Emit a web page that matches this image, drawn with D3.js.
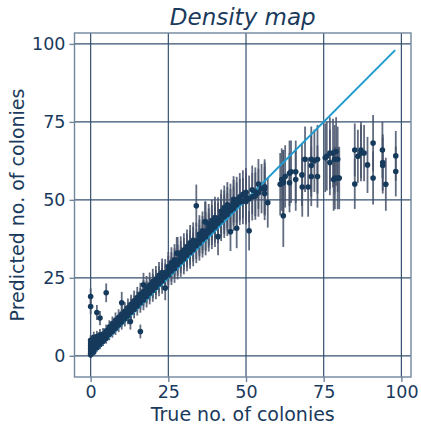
<script src='https://cdn.jsdelivr.net/npm/d3@7/dist/d3.min.js'></script>
<style>
  body {margin:0; background:white;}
  svg text {font-family:'DejaVu Sans',sans-serif; fill:#1a3a5c;}
</style>
<svg id='chart'></svg>
<script>
// [true count, predicted count, error half-width]
const lowBand=[[0,0.8,1.1],[0,1.6,1.2],[0,2.4,1.3],[0,3.3,1.4],[0,4.1,1.5],[0,5.0,1.6],[0,0.3,1.0],
  [1,1.2,1.2],[1,2.2,1.3],[1,3.0,1.4],[1,3.9,1.5],[1,4.8,1.6],[1,5.9,1.8],
  [2,2.6,1.3],[2,3.5,1.4],[2,4.4,1.6],[2,5.3,1.7],[2,6.2,1.8],
  [3,3.6,1.5],[3,4.6,1.6],[3,5.6,1.7],[3,6.7,1.9],
  [4,4.7,1.6],[4,5.8,1.8],[4,7.0,1.9],[5,5.6,1.7],[5,6.8,1.9],[5,8.0,2.0],
  [6,6.9,1.9],[6,8.1,2.0],[6,9.2,2.2],[7,7.8,2.0],[7,9.0,2.2],[7,10.3,2.3],
  [8,8.8,2.1],[8,10.1,2.3],[8,11.4,2.5],[9,9.9,2.3],[9,11.2,2.4],[9,12.3,2.6],
  [10,10.8,2.4],[10,12.0,2.6],[10,13.4,2.7],[11,11.9,2.5],[11,13.2,2.7],[11,14.3,2.9],
  [12,12.8,2.7],[12,14.1,2.8],[12,15.4,3.0],[13,14.0,2.8],[13,15.3,3.0],[13,16.5,3.1],
  [14,14.9,2.9],[14,16.2,3.1],[14,17.6,3.3],[15,16.0,3.1],[15,17.4,3.2],[15,18.7,3.4],
  [16,17.0,3.2],[16,18.3,3.4],[16,19.8,3.6],[17,17.9,3.3],[17,19.4,3.5],[17,20.6,3.7],
  [18,19.0,3.5],[18,20.4,3.6],[18,21.8,3.8],[19,20.1,3.6],[19,21.5,3.8],[19,22.7,4.0],
  [20,21.0,3.7],[20,22.4,3.9],[20,23.8,4.1]];
const midBand=[[21,22.0,3.9],[21,23.5,4.0],[21,24.6,4.2],[22,23.1,4.0],[22,24.5,4.2],[22,25.8,4.3],
  [23,24.0,4.1],[23,25.6,4.3],[23,26.7,4.5],[24,25.2,4.3],[24,26.6,4.4],[24,21.7,3.9],
  [25,26.0,4.4],[25,27.4,4.6],[25,28.6,4.7],[26,27.2,4.5],[26,28.5,4.7],[26,29.9,4.9],
  [27,28.0,4.6],[27,29.6,4.8],[27,30.8,5.0],[28,29.3,4.8],[28,30.7,5.0],[28,32.9,5.2],
  [29,30.2,4.9],[29,31.7,5.1],[29,33.0,5.3],[30,31.1,5.0],[30,32.6,5.2],[30,33.9,5.4],
  [31,32.3,5.2],[31,33.8,5.4],[31,35.0,5.5],[32,33.2,5.3],[32,34.7,5.5],[32,36.2,5.7],
  [33,34.1,5.4],[33,35.8,5.6],[33,37.0,5.8],[34,35.3,5.6],[34,36.8,5.8],
  [35,36.2,5.7],[35,37.8,5.9],[35,39.0,6.1],[36,37.4,5.9],[36,38.8,6.0],[36,40.1,6.2],
  [37,38.2,6.0],[37,39.9,6.2],[37,43.0,6.5],[38,39.5,6.1],[38,41.0,6.3],[38,42.2,6.5],
  [39,40.4,6.2],[39,41.9,6.4],[39,43.4,6.6],[40,41.3,6.4],[40,42.9,6.6],[40,44.3,6.7],
  [41,42.5,6.5],[41,44.1,6.7],[42,43.4,6.6],[42,45.0,6.8],[42,46.3,7.0],
  [43,44.6,6.8],[43,46.0,7.0],[43,47.5,7.1],[44,45.3,6.9],[44,47.0,7.1],[44,48.4,7.3],
  [45,46.5,7.0],[45,48.0,7.2],[46,47.2,7.1],[46,49.1,7.3],[46,50.2,7.4],
  [47,48.4,7.2],[47,50.0,7.4],[48,49.3,7.4],[48,51.0,7.6],[49,49.6,7.4],[49,51.8,7.7],
  [50,49.5,7.4],[50,51.0,7.6],[50,52.4,7.8],[51,50.3,7.5],[52,51.0,7.6],[52,53.2,7.8],
  [53,51.2,7.6],[53,52.6,7.8],[54,55.1,8.0],[54,52.3,7.7],[55,53.6,7.9]];
const plateau=[[56,52.0,8.5],[56,53.5,8.5],[56,54.2,8.8],[57,49.1,8.0],
  [61,55.0,10],[61.5,56.5,10],[62,55.5,10.5],[62,56.0,10],[62,44.9,10],
  [62.6,57.5,10],[64,58.5,10.5],[64.5,59.0,10],[66,59.0,10],
  [64,55.5,9.5],[66,56.5,10],[68,58.0,10],[68.1,54.1,9.5],[70,54.1,9.5],[69,63.0,10.5],
  [71,63.0,10.5],[72,62.5,10],[73,63.0,11],[71,61.0,10],[71,57.5,9.5],[73,57.5,10],
  [75.5,63.5,11],[76,64.0,11],[77,65.0,11.5],[78,65.0,11],[77,62.0,10.5],[78.5,63.0,11],
  [79.5,63.0,10.5],[79,65.5,11],[78.6,57.0,10],[78.2,56.5,10],[79.5,57.0,10],[80,57.0,10],
  [85,66.0,8.5],[85,55.1,8],[86,64.0,8.5],[87,66.0,9],[87,65.0,9],[88,65.0,9],
  [89.1,61.2,9],[90.9,68.2,9],[90.9,57.0,8.5],[93.9,66.0,9],[94,62.0,9],[94,61.0,9],
  [95,55.0,8.5],[98.2,64.1,8],[98.2,59.1,8]];
const outliers=[[0,19.0,2.6],[0,15.8,2.5],[2,13.9,2.4],[3,12.1,2.3],[5,20.2,3.0],
  [10,17.0,3.5],[12.8,11.0,2.6],[16,7.8,2.2],[17,22.8,3.8],[27.7,32.9,5.2],
  [34,48.1,6.8],[36.8,43.0,6.5],[41,38.2,6.0],[45,39.8,6.2],[47,40.9,6.4],[51,40.1,6.3]];
const identity=[0,98];
const xTicks=[0,25,50,75,100], yTicks=[0,25,50,75,100];

const W=421,H=427;
const L=74.5,R=411,T=33,B=377;
const ink='#1a3a5c', spine='#71869d', grid='#34506f';
const all=lowBand.concat(midBand,plateau,outliers);

const svg=d3.select('#chart').attr('width',W).attr('height',H);
const x=d3.scaleLinear().domain([-5.2,103.1]).range([L,R]);
const y=d3.scaleLinear().domain([-6.8,103.5]).range([B,T]);

// grid
svg.append('g').selectAll('line').data(xTicks).join('line')
   .attr('x1',d=>x(d)).attr('x2',d=>x(d)).attr('y1',T).attr('y2',B)
   .attr('stroke',grid).attr('stroke-width',1.2);
svg.append('g').selectAll('line').data(yTicks).join('line')
   .attr('y1',d=>y(d)).attr('y2',d=>y(d)).attr('x1',L).attr('x2',R)
   .attr('stroke',grid).attr('stroke-width',1.2);

// error bars
svg.append('g').selectAll('line').data(all).join('line')
   .attr('x1',d=>x(d[0])).attr('x2',d=>x(d[0]))
   .attr('y1',d=>y(d[1]-d[2])).attr('y2',d=>y(d[1]+d[2]))
   .attr('stroke','#46526a').attr('stroke-opacity',0.85).attr('stroke-width',1.8);

// identity line
svg.append('line')
   .attr('x1',x(identity[0])).attr('y1',y(identity[0]))
   .attr('x2',x(identity[1])).attr('y2',y(identity[1]))
   .attr('stroke','#1f9bd0').attr('stroke-width',2);

// points
svg.append('g').selectAll('circle').data(all).join('circle')
   .attr('cx',d=>x(d[0])).attr('cy',d=>y(d[1])).attr('r',2.8)
   .attr('fill','#163a5c');

// frame
svg.append('rect').attr('x',L).attr('y',T).attr('width',R-L).attr('height',B-T)
   .attr('fill','none').attr('stroke',spine).attr('stroke-width',1.4);

// axes
const xa=svg.append('g').attr('transform','translate(0,'+B+')')
   .call(d3.axisBottom(x).tickValues(xTicks).tickSize(5).tickPadding(4));
const ya=svg.append('g').attr('transform','translate('+L+',0)')
   .call(d3.axisLeft(y).tickValues(yTicks).tickSize(5).tickPadding(4));
[xa,ya].forEach(a=>{
  a.select('.domain').remove();
  a.selectAll('line').attr('stroke',spine).attr('stroke-width',1.4);
  a.selectAll('text').style('font-size','17.5px').attr('fill',ink)
   .style('font-family',"'DejaVu Sans',sans-serif");
});

svg.append('text').attr('x',(L+R)/2).attr('y',25).attr('text-anchor','middle')
   .style('font-size','23px').style('font-style','italic').text('Density map');
svg.append('text').attr('x',(L+R)/2).attr('y',421).attr('text-anchor','middle')
   .style('font-size','19px').text('True no. of colonies');
svg.append('text').attr('transform','translate(24,'+((T+B)/2)+') rotate(-90)')
   .attr('text-anchor','middle').style('font-size','19px').text('Predicted no. of colonies');
</script>
